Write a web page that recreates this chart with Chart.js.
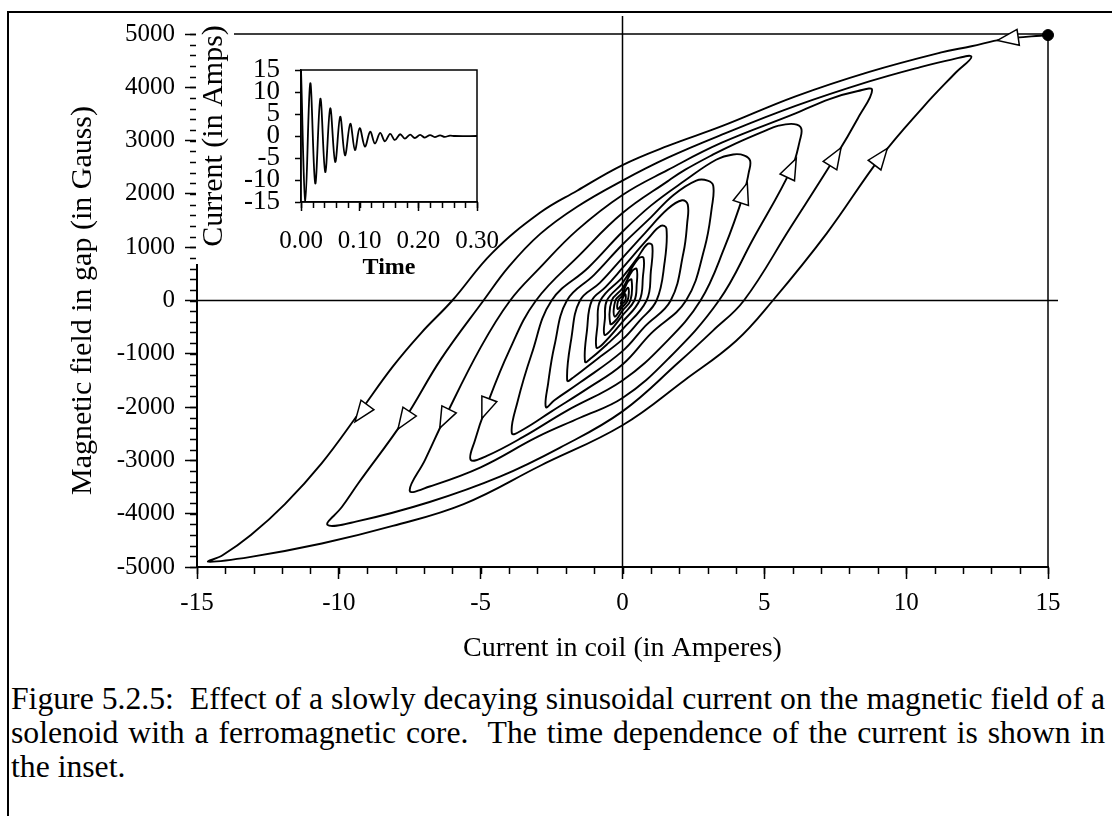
<!DOCTYPE html>
<html>
<head>
<meta charset="utf-8">
<title>Figure 5.2.5</title>
<script src="https://cdn.jsdelivr.net/npm/chart.js@4.4.1/dist/chart.umd.min.js"></script>
<style>
  body { margin: 0; background: #fff; }
  #page { position: relative; width: 1112px; height: 816px; overflow: hidden; background: #fff; }
  #frame { position: absolute; left: 7px; top: 11px; width: 1200px; height: 900px; border-left: 2px solid #000; border-top: 2px solid #000; }
  #mainChart { position: absolute; left: 0; top: 0; }
  #insetChart { position: absolute; left: 196px; top: 14px; }
  #caption { position: absolute; left: 11px; top: 682px; width: 1094px; font-family: 'Liberation Serif', 'Times New Roman', serif; font-size: 31.7px; line-height: 34px; color: #000; }
  #caption .full { text-align: justify; text-align-last: justify; white-space: nowrap; }
  #caption div { white-space: nowrap; }
</style>
</head>
<body>
<div id="page">
  <div id="frame"></div>
  <canvas id="mainChart" width="1112" height="680"></canvas>
  <canvas id="insetChart" width="330" height="275"></canvas>
  <div id="caption">
    <div class="full">Figure 5.2.5:&nbsp; Effect of a slowly decaying sinusoidal current on the magnetic field of a</div>
    <div class="full">solenoid with a ferromagnetic core.&nbsp; The time dependence of the current is shown in</div>
    <div>the inset.</div>
  </div>
</div>
<script>
const serif = "'Liberation Serif', 'Times New Roman', serif";

// spiral, [current A, field G], one list per half cycle
const downBranches = [
    [[15, 4980], [13.4, 4900], [12.3, 4770], [11.2, 4650], [8.7, 4290], [6.1, 3830], [3.5, 3270], [1.6, 2900], [0, 2540], [-1.6, 2060], [-2.9, 1650], [-4.6, 890], [-6.0, 0], [-7.1, -610], [-8.1, -1240], [-9.3, -2120], [-10.6, -3050], [-11.9, -3820], [-13.1, -4400], [-14.1, -4780], [-14.6, -4900]],
    [[12.3, 4575], [11.6, 4520], [10.5, 4380], [8.7, 4110], [6.1, 3650], [3.5, 3110], [1.6, 2680], [0, 2250], [-1.6, 1760], [-2.9, 1250], [-4.0, 640], [-4.9, 0], [-6.4, -1100], [-7.7, -2240], [-9.3, -3420], [-9.9, -3880], [-10.4, -4210]],
    [[8.8, 3950], [8.3, 3930], [7.3, 3780], [6.1, 3510], [3.5, 2960], [1.6, 2450], [0, 1980], [-1.6, 1320], [-2.9, 620], [-3.96, 0], [-5.0, -880], [-6.27, -2210], [-6.96, -2990], [-7.5, -3570]],
    [[6.3, 3230], [6.05, 3310], [5.5, 3280], [5.0, 3180], [4.0, 2950], [3.2, 2740], [2.2, 2450], [1.6, 2240], [0, 1640], [-1.5, 860], [-3.05, 0], [-4.0, -950], [-4.82, -2020], [-5.2, -2620], [-5.35, -2990]],
    [[4.5, 2620], [4.3, 2720], [3.9, 2740], [3.3, 2640], [2.2, 2250], [1.0, 1780], [0, 1290], [-1.2, 620], [-2.5, 0], [-3.2, -1000], [-3.7, -1900], [-3.9, -2490]],
    [[3.2, 2150], [3.0, 2250], [2.6, 2250], [1.8, 1980], [1.0, 1560], [0, 1050], [-1.0, 480], [-1.96, 0], [-2.4, -850], [-2.62, -1550], [-2.7, -2000]],
    [[2.3, 1800], [2.1, 1880], [1.6, 1720], [0.8, 1270], [0, 800], [-0.8, 330], [-1.5, 0], [-1.8, -700], [-1.95, -1500]],
    [[1.55, 1350], [1.35, 1400], [0.9, 1160], [0, 610], [-0.6, 250], [-1.08, 0], [-1.25, -550], [-1.32, -1150]],
    [[1.05, 1030], [0.88, 1060], [0.5, 780], [0, 440], [-0.78, 0], [-0.88, -450], [-0.92, -880]],
    [[0.74, 800], [0.55, 780], [0, 330], [-0.55, 0], [-0.62, -340], [-0.64, -640]],
    [[0.5, 590], [0.35, 560], [0, 230], [-0.38, 0], [-0.43, -440]],
    [[0.32, 390], [0.2, 360], [0, 150], [-0.25, 0], [-0.28, -300]],
    [[0.2, 240], [0, 90], [-0.15, 0], [-0.17, -160]],
    [[0.1, 120], [0, 40], [-0.06, -60], [0, 0]]
];
const upBranches = [
    [[-14.6, -4900], [-13.1, -4810], [-10.6, -4560], [-8.1, -4230], [-5.6, -3820], [-2.9, -3100], [0, -2340], [2.2, -1490], [4.0, -760], [5.3, 0], [7.2, 1260], [9.1, 2690], [10.6, 3630], [11.7, 4250], [12.3, 4575]],
    [[-10.4, -4210], [-9.4, -4150], [-6.8, -3780], [-4.3, -3300], [-2.2, -2760], [0, -2080], [2.0, -1150], [3.2, -560], [4.28, 0], [5.9, 1350], [7.5, 2690], [8.3, 3420], [8.8, 3950]],
    [[-7.5, -3570], [-6.8, -3490], [-5.0, -3130], [-3.0, -2560], [-1.5, -2200], [0, -1830], [1.6, -1100], [3.4, 0], [4.6, 1150], [5.96, 2480], [6.25, 3000], [6.3, 3230]],
    [[-5.35, -2990], [-4.8, -2920], [-3.5, -2560], [-2.0, -2080], [0, -1500], [1.5, -800], [2.75, 0], [3.6, 1000], [4.28, 2010], [4.45, 2400], [4.5, 2620]],
    [[-3.9, -2490], [-3.5, -2420], [-2.5, -2080], [-1.2, -1640], [0, -1200], [1.0, -620], [2.24, 0], [2.9, 1000], [3.15, 1750], [3.2, 2150]],
    [[-2.7, -2000], [-2.4, -1870], [-1.5, -1540], [0, -950], [0.8, -480], [1.7, 0], [2.15, 900], [2.28, 1450], [2.3, 1800]],
    [[-1.95, -1500], [-1.7, -1430], [-0.9, -1100], [0, -730], [0.6, -380], [1.2, 0], [1.48, 700], [1.55, 1350]],
    [[-1.32, -1150], [-1.1, -1080], [-0.5, -800], [0, -540], [0.85, 0], [1.0, 550], [1.05, 1030]],
    [[-0.92, -880], [-0.7, -820], [0, -400], [0.6, 0], [0.72, 450], [0.74, 800]],
    [[-0.64, -640], [-0.45, -580], [0, -280], [0.42, 0], [0.5, 300], [0.5, 590]],
    [[-0.43, -440], [-0.25, -380], [0, -190], [0.28, 0], [0.32, 390]],
    [[-0.28, -300], [0, -120], [0.18, 0], [0.2, 240]],
    [[-0.17, -160], [0, -60], [0.1, 0], [0.1, 120]]
];
const startPoint = [15, 4980];
const arrowMarks = [[13.6, 4910], [-9.2, -2110], [-7.7, -2240], [-6.27, -2210], [-4.82, -2020], [9.1, 2690], [7.5, 2690], [5.96, 2480], [4.28, 2010]];

const mainXTicks = [-15, -10, -5, 0, 5, 10, 15];
const mainYTicks = [-5000, -4000, -3000, -2000, -1000, 0, 1000, 2000, 3000, 4000, 5000];

// inset: current against time, one value per peak
const insetTime = [0, 0.0074, 0.0158, 0.0243, 0.033, 0.0413, 0.0498, 0.0583, 0.0668, 0.075, 0.084, 0.092, 0.100, 0.109, 0.118, 0.126, 0.135, 0.143, 0.152, 0.160, 0.169, 0.177, 0.186, 0.194, 0.203, 0.211, 0.220, 0.228, 0.237, 0.245, 0.254, 0.262, 0.30];
const insetCurrent = [15, -15, 12, -10.8, 8.5, -8.2, 6.3, -5.9, 4.4, -4.4, 2.8, -3.2, 1.8, -2.4, 1.0, -1.7, 0.7, -1.2, 0.5, -0.9, 0.4, -0.6, 0.3, -0.45, 0.25, -0.35, 0.2, -0.25, 0.15, -0.2, 0.1, 0, 0];
const insetXTicks = [0, 0.1, 0.2, 0.3];
const insetYTicks = [-15, -10, -5, 0, 5, 10, 15];

const spiral = [];
downBranches.forEach((down, i) => {
    [down, upBranches[i]].forEach(branch => {
        if (!branch) return;
        branch.forEach((p, j) => {
            if (spiral.length && j === 0) return;
            spiral.push({ x: p[0], y: p[1] });
        });
    });
});

function drawMinorTicks(chart, axisId, step, len) {
    const s = chart.scales[axisId];
    const ctx = chart.ctx;
    ctx.save();
    ctx.strokeStyle = '#000';
    ctx.lineWidth = 1.5;
    ctx.beginPath();
    for (let v = s.min; v <= s.max + step / 2; v += step) {
        const p = Math.round(s.getPixelForValue(v)) + 0.5;
        if (s.isHorizontal()) {
            ctx.moveTo(p, s.top);
            ctx.lineTo(p, s.top + len);
        } else {
            ctx.moveTo(s.right - len, p);
            ctx.lineTo(s.right, p);
        }
    }
    ctx.stroke();
    ctx.restore();
}

const framePlugin = {
    id: 'frame',
    beforeDatasetsDraw(chart) {
        const { left, right, top, bottom } = chart.chartArea;
        const ctx = chart.ctx;
        const x0 = chart.scales.x.getPixelForValue(0);
        const y0 = chart.scales.y.getPixelForValue(0);
        ctx.save();
        ctx.strokeStyle = '#000';
        ctx.lineWidth = 1.5;
        ctx.strokeRect(left, top, right - left, bottom - top);
        ctx.beginPath();
        ctx.moveTo(left, y0);
        ctx.lineTo(right + 10, y0);
        ctx.moveTo(x0, top - 18);
        ctx.lineTo(x0, bottom);
        ctx.stroke();
        ctx.restore();
        drawMinorTicks(chart, 'x', 1, 7);
        drawMinorTicks(chart, 'y', 200, 7);
    }
};

const arrowPlugin = {
    id: 'arrows',
    afterDatasetsDraw(chart) {
        const xs = chart.scales.x, ys = chart.scales.y, ctx = chart.ctx;
        const pts = spiral.map(p => [xs.getPixelForValue(p.x), ys.getPixelForValue(p.y)]);
        arrowMarks.forEach(m => {
            const cx = xs.getPixelForValue(m[0]), cy = ys.getPixelForValue(m[1]);
            let best = 0, bestD = Infinity;
            pts.forEach((p, i) => {
                const d = (p[0] - cx) ** 2 + (p[1] - cy) ** 2;
                if (d < bestD) { bestD = d; best = i; }
            });
            const a = pts[Math.max(best - 1, 0)], b = pts[Math.min(best + 1, pts.length - 1)];
            let dx = b[0] - a[0], dy = b[1] - a[1];
            const len = Math.hypot(dx, dy) || 1;
            dx /= len; dy /= len;
            ctx.save();
            ctx.beginPath();
            ctx.moveTo(cx + dx * 11, cy + dy * 11);
            ctx.lineTo(cx - dx * 10 - dy * 8, cy - dy * 10 + dx * 8);
            ctx.lineTo(cx - dx * 10 + dy * 8, cy - dy * 10 - dx * 8);
            ctx.closePath();
            ctx.fillStyle = '#fff';
            ctx.fill();
            ctx.lineWidth = 1.5;
            ctx.strokeStyle = '#000';
            ctx.stroke();
            ctx.restore();
        });
    }
};

const insetPlugin = {
    id: 'insetFrame',
    beforeDraw(chart) {
        const ctx = chart.ctx;
        ctx.save();
        ctx.fillStyle = '#fff';
        ctx.fillRect(0, 0, 38, 250);
        ctx.restore();
    },
    afterDatasetsDraw(chart) {
        const { left, right, top, bottom } = chart.chartArea;
        const ctx = chart.ctx;
        ctx.save();
        ctx.strokeStyle = '#000';
        ctx.lineWidth = 1.5;
        ctx.strokeRect(left, top, right - left, bottom - top);
        ctx.restore();
        drawMinorTicks(chart, 'x', 0.02, 6);
    }
};

function axisText(size, extra) {
    return Object.assign({ font: { family: serif, size: size }, color: '#000' }, extra);
}

new Chart(document.getElementById('mainChart'), {
    type: 'line',
    data: {
        datasets: [
            { data: spiral, borderColor: '#000', borderWidth: 1.9, pointRadius: 0, tension: 0.4, fill: false },
            { data: [{ x: startPoint[0], y: startPoint[1] }], showLine: false, pointRadius: 5.5, pointBackgroundColor: '#000', pointBorderColor: '#000', clip: false }
        ]
    },
    options: {
        responsive: false,
        animation: false,
        devicePixelRatio: 1,
        layout: { padding: { top: 34, right: 64, left: 0, bottom: 0 } },
        plugins: { legend: { display: false }, tooltip: { enabled: false } },
        scales: {
            x: {
                type: 'linear', min: -15, max: 15,
                afterBuildTicks: s => { s.ticks = mainXTicks.map(v => ({ value: v })); },
                afterFit: s => { s.height = 113; },
                ticks: axisText(25, { padding: 9, maxRotation: 0, autoSkip: false, callback: v => String(v) }),
                grid: { drawOnChartArea: false, tickLength: 12, tickColor: '#000', tickWidth: 1.5 },
                border: { color: '#000', width: 2 },
                title: axisText(28, { display: true, text: 'Current in coil (in Amperes)', padding: { top: 0, bottom: 15 } })
            },
            y: {
                type: 'linear', min: -5000, max: 5000,
                afterBuildTicks: s => { s.ticks = mainYTicks.map(v => ({ value: v })); },
                afterFit: s => { s.width = 197; },
                ticks: axisText(25, { padding: 10, autoSkip: false, callback: v => String(v) }),
                grid: { drawOnChartArea: false, tickLength: 12, tickColor: '#000', tickWidth: 1.5 },
                border: { color: '#000', width: 2 },
                title: axisText(30, { display: true, text: 'Magnetic field in gap (in Gauss)', padding: { top: 65, bottom: 0 } })
            }
        }
    },
    plugins: [framePlugin, arrowPlugin]
});

new Chart(document.getElementById('insetChart'), {
    type: 'line',
    data: {
        datasets: [{
            data: insetTime.map((t, i) => ({ x: t, y: insetCurrent[i] })),
            borderColor: '#000', borderWidth: 1.8, pointRadius: 0, tension: 0.35, fill: false
        }]
    },
    options: {
        responsive: false,
        animation: false,
        devicePixelRatio: 1,
        layout: { padding: { top: 56, right: 49, left: 0, bottom: 0 } },
        plugins: { legend: { display: false }, tooltip: { enabled: false } },
        scales: {
            x: {
                type: 'linear', min: 0, max: 0.3,
                afterBuildTicks: s => { s.ticks = insetXTicks.map(v => ({ value: v })); },
                afterFit: s => { s.height = 87; },
                ticks: axisText(25, { padding: 15, maxRotation: 0, autoSkip: false, callback: v => v.toFixed(2) }),
                grid: { drawOnChartArea: false, tickLength: 9, tickColor: '#000', tickWidth: 1.5 },
                border: { color: '#000', width: 1.5 },
                title: { display: true, text: 'Time', color: '#000', font: { family: serif, size: 24, weight: 'bold' }, padding: { top: 0, bottom: 7 } }
            },
            y: {
                type: 'linear', min: -15, max: 15,
                afterBuildTicks: s => { s.ticks = insetYTicks.map(v => ({ value: v })); },
                afterFit: s => { s.width = 105; },
                ticks: axisText(27, { padding: 15, autoSkip: false, callback: v => String(v) }),
                grid: { drawOnChartArea: false, tickLength: 6, tickColor: '#000', tickWidth: 1.5 },
                border: { color: '#000', width: 1.5 },
                title: axisText(30, { display: true, text: 'Current (in Amps)', padding: { top: 0, bottom: 0 } })
            }
        }
    },
    plugins: [insetPlugin]
});
</script>
</body>
</html>
